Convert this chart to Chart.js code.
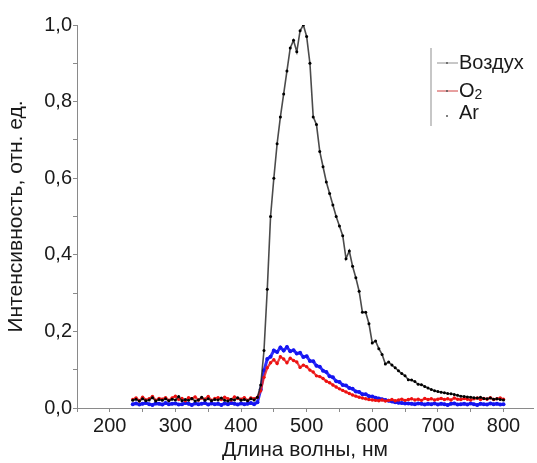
<!DOCTYPE html>
<html>
<head>
<meta charset="utf-8">
<script src="https://cdn.jsdelivr.net/npm/chart.js@4.4.1/dist/chart.umd.min.js"></script>
<style>
  html, body { margin: 0; padding: 0; background: #fff; }
  #wrap { width: 537px; height: 463px; position: relative; }
</style>
</head>
<body>
<div id="wrap"><canvas id="spectrum"></canvas></div>
<script>
'use strict'

// wavelengths, nm
var wavelengths = [
    235, 240, 245, 250, 255, 260, 265, 270, 275, 280, 285, 290, 295, 300, 305, 310, 315, 320, 325, 330,
    335, 340, 345, 350, 355, 360, 365, 370, 375, 380, 385, 390, 395, 400, 405, 410, 415, 420,
    425, 430, 435, 440, 445, 450, 455, 460, 465, 470, 475, 480, 485, 490, 495, 500, 505, 510, 515, 520,
    525, 530, 535, 540, 545, 550, 555, 560, 565, 570, 575, 580, 585, 590, 595, 600,
    605, 610, 615, 620, 625, 630, 635, 640, 645, 650, 655, 660, 665, 670, 675, 680, 685, 690, 695, 700,
    705, 710, 715, 720, 725, 730, 735, 740, 745, 750, 755, 760, 765, 770, 775, 780, 785, 790, 795, 800
];

// Воздух
var airValues = [
    0.020, 0.023, 0.018, 0.024, 0.019, 0.021, 0.027, 0.018, 0.022, 0.020,
    0.024, 0.019, 0.023, 0.021, 0.030, 0.019, 0.022, 0.020, 0.025, 0.018,
    0.021, 0.028, 0.020, 0.024, 0.019, 0.022, 0.021, 0.026, 0.020, 0.018,
    0.023, 0.021, 0.027, 0.020, 0.022, 0.019, 0.024, 0.021,
    0.028, 0.060, 0.150, 0.310, 0.500, 0.600, 0.690, 0.760, 0.820, 0.880,
    0.940, 0.960, 0.930, 0.985, 1.000, 0.970, 0.900, 0.760, 0.740, 0.670,
    0.630, 0.590, 0.560, 0.530, 0.500, 0.475, 0.450, 0.390, 0.410, 0.370,
    0.340, 0.305, 0.250, 0.250, 0.220, 0.170,
    0.175, 0.155, 0.140, 0.115, 0.120, 0.112, 0.105, 0.097, 0.090, 0.084,
    0.074, 0.073, 0.069, 0.062, 0.061, 0.056, 0.052, 0.048, 0.045, 0.043,
    0.041, 0.040, 0.038, 0.037, 0.035, 0.033, 0.031, 0.030, 0.029, 0.028,
    0.027, 0.026, 0.028, 0.025, 0.024, 0.026, 0.023, 0.024, 0.022, 0.021
];

// O2
var o2Values = [
    0.022, 0.026, 0.019, 0.028, 0.021, 0.024, 0.030, 0.020, 0.025, 0.023,
    0.027, 0.020, 0.026, 0.031, 0.022, 0.025, 0.019, 0.027, 0.024, 0.029,
    0.021, 0.026, 0.023, 0.030, 0.020, 0.025, 0.027, 0.022, 0.028, 0.024,
    0.021, 0.029, 0.025, 0.023, 0.027, 0.020, 0.026, 0.024,
    0.028, 0.045, 0.080, 0.105, 0.118, 0.126, 0.116, 0.134, 0.128, 0.118,
    0.130, 0.124, 0.120, 0.106, 0.112, 0.108, 0.099, 0.094, 0.084, 0.082,
    0.077, 0.070, 0.066, 0.060, 0.055, 0.050, 0.046, 0.042, 0.038, 0.034,
    0.031, 0.028, 0.026, 0.024, 0.022, 0.021,
    0.020, 0.019, 0.021, 0.018, 0.020, 0.022, 0.019, 0.021, 0.023, 0.020,
    0.022, 0.024, 0.021, 0.023, 0.020, 0.025, 0.022, 0.024, 0.021, 0.023,
    0.025, 0.022, 0.024, 0.021, 0.026, 0.023, 0.022, 0.025, 0.023, 0.021,
    0.024, 0.026, 0.022, 0.025, 0.023, 0.027, 0.022, 0.024, 0.026, 0.023
];

// Ar
var arValues = [
    0.010, 0.012, 0.009, 0.011, 0.013, 0.010, 0.008, 0.012, 0.011, 0.009,
    0.013, 0.010, 0.011, 0.012, 0.009, 0.010, 0.013, 0.011, 0.008, 0.012,
    0.010, 0.011, 0.013, 0.009, 0.012, 0.010, 0.011, 0.008, 0.012, 0.010,
    0.013, 0.011, 0.009, 0.012, 0.010, 0.011, 0.013, 0.010,
    0.015, 0.048, 0.098, 0.128, 0.134, 0.150, 0.146, 0.158, 0.150, 0.159,
    0.148, 0.151, 0.142, 0.144, 0.133, 0.135, 0.123, 0.122, 0.110, 0.108,
    0.097, 0.094, 0.083, 0.080, 0.070, 0.068, 0.060, 0.059, 0.052, 0.050,
    0.043, 0.042, 0.036, 0.036, 0.031, 0.030,
    0.027, 0.025, 0.023, 0.021, 0.019, 0.017, 0.015, 0.014, 0.013, 0.012,
    0.012, 0.011, 0.010, 0.012, 0.011, 0.009, 0.011, 0.010, 0.012, 0.009,
    0.011, 0.010, 0.008, 0.011, 0.012, 0.009, 0.010, 0.011, 0.009, 0.012,
    0.010, 0.008, 0.011, 0.010, 0.009, 0.012, 0.010, 0.011, 0.009, 0.010
];

var seriesNames = ['Воздух', 'O2', 'Ar'];
var xTickLabels = [200, 300, 400, 500, 600, 700, 800];
var yTickLabels = [0, 0.2, 0.4, 0.6, 0.8, 1.0];

function toPoints(values) {
    return values.map(function (v, i) { return { x: wavelengths[i], y: v }; });
}

var FONT = "'Liberation Sans', Arial, sans-serif";
var AXIS = '#8a8a8a';

// legend drawn inside the plot, top right
var boxLegend = {
    id: 'boxLegend',
    afterDraw: function (chart) {
        var ctx = chart.ctx;
        ctx.save();
        ctx.strokeStyle = '#b5b5b5';
        ctx.lineWidth = 1.5;
        ctx.beginPath();
        ctx.moveTo(431, 48);
        ctx.lineTo(431, 126);
        ctx.stroke();

        var rows = [63, 91, 113];
        var symbolLine = ['#909090', '#d04040', null];
        ctx.font = '20px ' + FONT;
        ctx.textBaseline = 'middle';
        rows.forEach(function (y, i) {
            if (symbolLine[i]) {
                ctx.strokeStyle = symbolLine[i];
                ctx.lineWidth = 1;
                ctx.beginPath();
                ctx.moveTo(437, y);
                ctx.lineTo(458, y);
                ctx.stroke();
            }
            ctx.fillStyle = '#555';
            ctx.beginPath();
            ctx.arc(447, y + (i === 2 ? 3 : 0), 1, 0, Math.PI * 2);
            ctx.fill();
            ctx.fillStyle = '#1a1a1a';
            var name = seriesNames[i];
            if (name === 'O2') {
                ctx.fillText('O', 459, y);
                var w = ctx.measureText('O').width;
                ctx.font = '14px ' + FONT;
                ctx.fillText('2', 459 + w, y + 4);
                ctx.font = '20px ' + FONT;
            } else {
                ctx.fillText(name, 459, y);
            }
        });
        ctx.restore();
    }
};

var ctx = document.getElementById('spectrum').getContext('2d');
new Chart(ctx, {
    type: 'scatter',
    data: {
        datasets: [{
            label: seriesNames[0],
            data: toPoints(airValues),
            showLine: true,
            borderColor: 'rgba(30,30,30,0.8)',
            borderWidth: 1.6,
            pointRadius: 1.5,
            pointBorderWidth: 0,
            pointBackgroundColor: '#000000',
            order: 0
        }, {
            label: seriesNames[1],
            data: toPoints(o2Values),
            showLine: true,
            borderColor: 'rgba(230,30,30,0.85)',
            borderWidth: 2.2,
            pointRadius: 1.7,
            pointBorderWidth: 0,
            pointBackgroundColor: '#ee1010',
            order: 1
        }, {
            label: seriesNames[2],
            data: toPoints(arValues),
            showLine: true,
            borderColor: 'rgba(25,25,255,0.9)',
            borderWidth: 3,
            pointRadius: 2,
            pointBorderWidth: 0,
            pointBackgroundColor: '#1515f0',
            order: 2
        }]
    },
    options: {
        responsive: true,
        maintainAspectRatio: false,
        animation: false,
        layout: { padding: { top: 25, right: 0, left: 0, bottom: 0 } },
        plugins: {
            legend: { display: false },
            tooltip: { enabled: false }
        },
        scales: {
            x: {
                type: 'linear',
                min: 150,
                max: 845,
                afterFit: function (scale) { scale.height = 55; },
                border: { color: AXIS, width: 1 },
                grid: { drawOnChartArea: false, drawTicks: true, tickLength: 4, color: AXIS },
                ticks: {
                    stepSize: 50,
                    includeBounds: false,
                    padding: 2,
                    maxRotation: 0,
                    autoSkip: false,
                    color: '#1a1a1a',
                    font: { family: FONT, size: 20 },
                    callback: function (v) { return xTickLabels.indexOf(v) >= 0 ? String(v) : ''; }
                },
                title: {
                    display: true,
                    text: 'Длина волны, нм',
                    color: '#1a1a1a',
                    font: { family: FONT, size: 21 },
                    padding: { top: 0, bottom: 0 }
                }
            },
            y: {
                min: 0,
                max: 1.0,
                afterFit: function (scale) { scale.width = 77; },
                border: { color: AXIS, width: 1 },
                grid: { drawOnChartArea: false, drawTicks: true, tickLength: 4, color: AXIS },
                ticks: {
                    stepSize: 0.1,
                    padding: 1,
                    color: '#1a1a1a',
                    font: { family: FONT, size: 20 },
                    callback: function (v) {
                        var r = Math.round(v * 10) / 10;
                        var hit = yTickLabels.some(function (t) { return Math.abs(t - r) < 1e-9; });
                        return hit ? r.toFixed(1).replace('.', ',') : '';
                    }
                },
                title: {
                    display: true,
                    text: 'Интенсивность, отн. ед.',
                    color: '#1a1a1a',
                    font: { family: FONT, size: 21 },
                    padding: { top: 4, bottom: 0 }
                }
            }
        }
    },
    plugins: [boxLegend]
});
</script>
</body>
</html>
